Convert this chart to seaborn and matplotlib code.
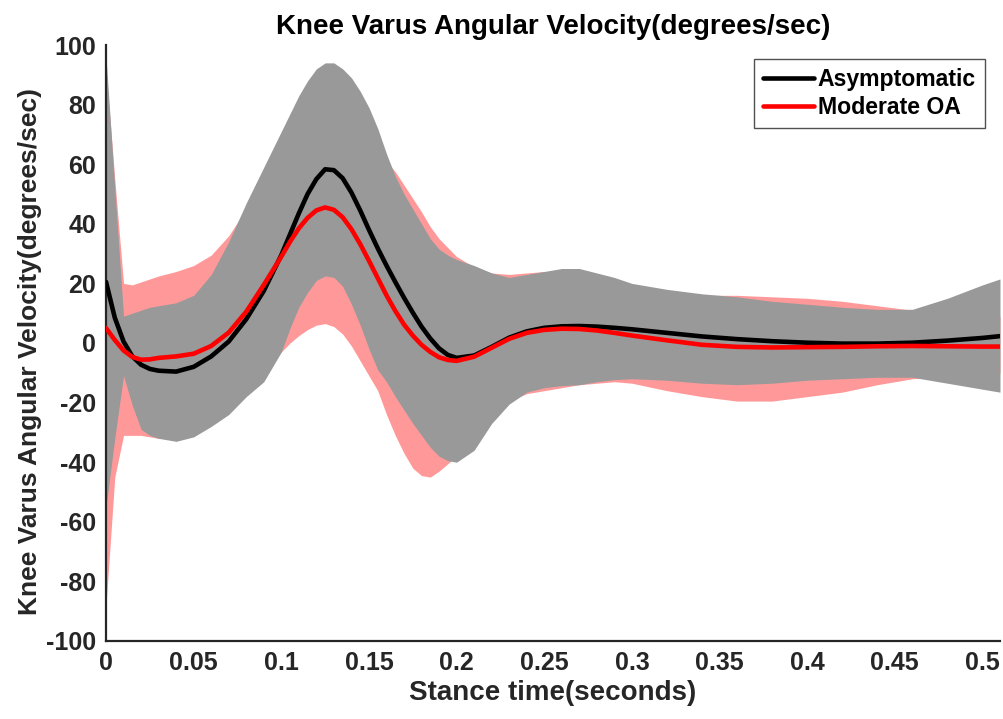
import matplotlib
matplotlib.use("Agg")
import matplotlib.pyplot as plt
import seaborn as sns
import numpy as np
import pandas as pd

# Stance time samples (seconds)
time_s = [0, 0.005, 0.01, 0.015, 0.02, 0.025, 0.03, 0.04, 0.05, 0.06, 0.07, 0.08,
          0.09, 0.1, 0.105, 0.11, 0.115, 0.12, 0.125, 0.13, 0.135, 0.14, 0.145,
          0.15, 0.155, 0.16, 0.165, 0.17, 0.175, 0.18, 0.185, 0.19, 0.195, 0.2,
          0.21, 0.22, 0.23, 0.24, 0.25, 0.26, 0.27, 0.28, 0.29, 0.3, 0.32, 0.34,
          0.36, 0.38, 0.4, 0.42, 0.44, 0.46, 0.48, 0.5, 0.51]

# Asymptomatic group: mean and band limits (degrees/sec)
asym_mean = [20.5, 8.5, 0.5, -4.5, -7.3, -8.7, -9.3, -9.6, -8, -4.5, 0.5, 8,
             17.5, 29.5, 36.5, 43.5, 50, 55, 58.3, 58, 55.3, 50.5, 44.5,
             38, 31.8, 26, 20.5, 15.2, 10.2, 5.5, 1.5, -1.8, -4, -5,
             -4.2, -1.3, 1.8, 3.9, 5.1, 5.6, 5.7, 5.5, 5.1, 4.6, 3.4, 2.2,
             1.3, 0.6, 0.1, -0.2, -0.2, 0.1, 0.8, 1.7, 2.3]
asym_hi = [96, 52, 9, 10, 11, 12, 12.5, 13.5, 16, 23, 34, 47,
           59, 71, 77, 83, 88, 92, 94, 94, 92, 89, 84.5,
           79, 72, 63.5, 56, 50, 45, 40, 35, 31.5, 29.5, 28,
           26, 23.5, 22, 23, 24, 25, 25, 23.5, 22, 20, 18, 16.5,
           15.5, 14, 13, 12, 11.3, 11.3, 15, 19.5, 21.5]
asym_lo = [-55, -32, -11, -21, -29, -31, -32, -33, -31.5, -28, -24, -18,
           -13, -3, 5, 12, 17, 21, 22.5, 22, 19, 13, 6,
           -2, -9, -13, -18, -22.5, -27, -31, -35, -38, -39.5, -40,
           -36, -27, -20.5, -16.5, -15, -14.3, -14, -13, -12.3, -12, -12.5, -13.5,
           -14, -13.5, -12.5, -12, -11.5, -11.5, -13.5, -15.5, -16.5]

# Moderate OA group: mean and band limits (degrees/sec)
oa_mean = [5, 1, -2.5, -4.7, -5.6, -5.5, -5, -4.5, -3.6, -1, 3.5, 10.5,
           19.5, 29, 34, 38.5, 42, 44.5, 45.5, 44.7, 42.2, 38.2, 33.2,
           27.6, 21.8, 16, 10.8, 6.2, 2.5, -0.6, -3, -4.8, -5.7, -6,
           -4.6, -1.6, 1.4, 3.4, 4.4, 4.8, 4.7, 4.2, 3.4, 2.5, 0.9, -0.6,
           -1.3, -1.5, -1.4, -1.3, -1.1, -1, -1.1, -1.2, -1.2]
oa_hi = [92, 55, 20, 19.5, 20.5, 21.5, 22.5, 24, 26, 29.5, 36, 45,
         56, 66, 71, 75, 78, 80, 81, 81, 80, 78, 75,
         71.5, 66, 61, 57.5, 53, 48.5, 44, 39, 35, 32, 29,
         25.5, 23.5, 23, 23.5, 24, 23.5, 22.5, 21, 19.5, 18, 16.5, 16,
         16, 15.5, 15, 14, 12.5, 11, 10, 9, 9]
oa_lo = [-88, -45, -31, -31, -31, -31.5, -32, -31.5, -30.5, -27.5, -23, -16,
         -9, -3, 0, 2.5, 4.5, 6, 6.5, 5.5, 3, -1, -6,
         -11, -16, -24, -31, -37, -42, -44.5, -45, -43, -40.5, -38,
         -32, -25, -19.5, -17, -16, -15, -14, -13.5, -13, -13.5, -16, -18,
         -19.5, -19.5, -18, -16.5, -14, -12, -11, -10.5, -10]

x_ticks = [0, 0.05, 0.1, 0.15, 0.2, 0.25, 0.3, 0.35, 0.4, 0.45, 0.5]
y_ticks = [-100, -80, -60, -40, -20, 0, 20, 40, 60, 80, 100]

sns.set_theme(style="white")
plt.rcParams["font.family"] = ["Liberation Sans", "DejaVu Sans"]
plt.rcParams["font.weight"] = "bold"

fig = plt.figure(figsize=(10.04, 7.19), dpi=100)
ax = fig.add_axes([0.1056, 0.1085, 0.8904, 0.8289])

t = np.array(time_s)
ax.fill_between(t, oa_lo, oa_hi, color="#ff9999", linewidth=0, zorder=1)
ax.fill_between(t, asym_lo, asym_hi, color="#999999", linewidth=0, zorder=2)

df = pd.DataFrame({
    "time": time_s * 2,
    "velocity": asym_mean + oa_mean,
    "group": ["Asymptomatic"] * len(time_s) + ["Moderate OA"] * len(time_s),
})
sns.lineplot(data=df, x="time", y="velocity", hue="group",
             palette={"Asymptomatic": "black", "Moderate OA": "#ff0000"},
             linewidth=3.3, ax=ax, zorder=3)
for ln in ax.get_lines():
    ln.set_solid_joinstyle("round")
    ln.set_solid_capstyle("round")

ax.set_xlim(0, 0.51)
ax.set_ylim(-100, 100)
ax.set_xticks(x_ticks)
ax.set_xticklabels([f"{v:g}" for v in x_ticks])
ax.set_yticks(y_ticks)
ax.set_yticklabels([f"{v:g}" for v in y_ticks])

dark = "#262626"
for side in ["top", "right"]:
    ax.spines[side].set_visible(False)
for side in ["left", "bottom"]:
    ax.spines[side].set_color(dark)
    ax.spines[side].set_linewidth(1.6)
ax.tick_params(direction="in", length=7, width=1.6, colors=dark,
               labelsize=18, pad=7)
for lbl in ax.get_xticklabels() + ax.get_yticklabels():
    lbl.set_fontweight("bold")

ax.set_title("Knee Varus Angular Velocity(degrees/sec)", fontsize=20,
             fontweight="bold", color="black", pad=8)
ax.set_xlabel("Stance time(seconds)", fontsize=20, fontweight="bold",
              color=dark, labelpad=4)
ax.set_ylabel("Knee Varus Angular Velocity(degrees/sec)", fontsize=19,
              fontweight="bold", color=dark)
ax.yaxis.set_label_coords(-0.072, 0.485)

leg = ax.legend(loc="upper right", bbox_to_anchor=(0.983, 0.9765), frameon=True,
                fancybox=False, edgecolor=dark, fontsize=16.6, handlelength=2.2,
                handletextpad=0.17, borderpad=0.38, labelspacing=0.22,
                borderaxespad=0)
leg.get_frame().set_linewidth(1.0)
for txt in leg.get_texts():
    txt.set_fontweight("bold")
    txt.set_color("black")

fig.savefig("out.png", dpi=100, facecolor="white")
